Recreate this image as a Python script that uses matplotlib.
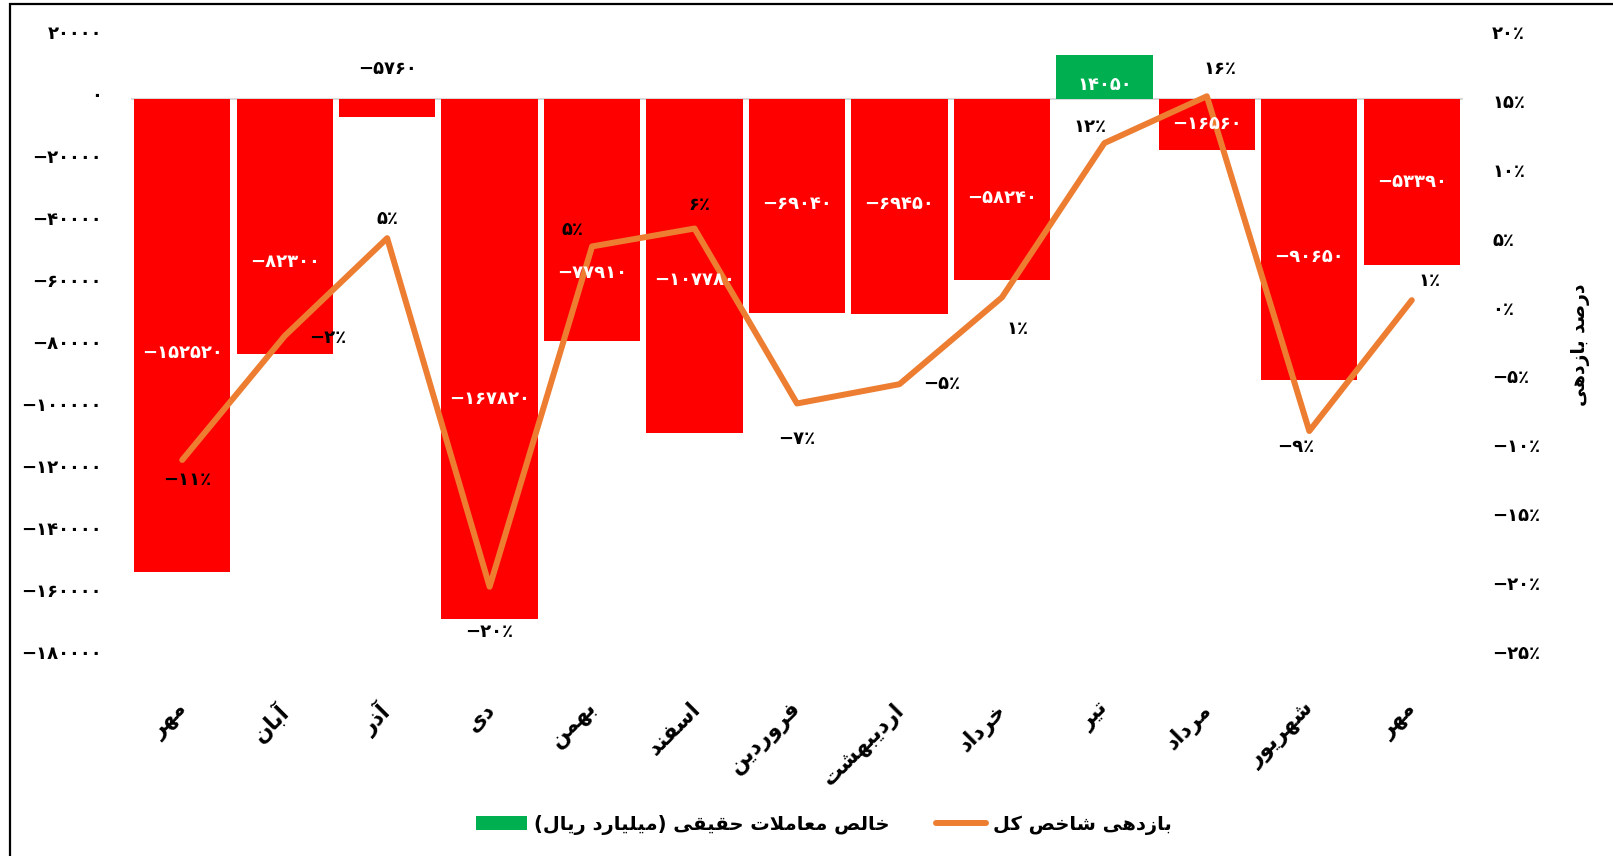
import numpy as np
import matplotlib
matplotlib.use('Agg')
import matplotlib.pyplot as plt
import matplotlib.transforms as mtrans
from matplotlib.font_manager import findfont, FontProperties
from matplotlib.ft2font import FT2Font
from matplotlib.patches import Rectangle, Patch
from matplotlib.lines import Line2D

# data
months = ['مهر', 'آبان', 'آذر', 'دی', 'بهمن', 'اسفند', 'فروردین',
          'اردیبهشت', 'خرداد', 'تیر', 'مرداد', 'شهریور', 'مهر']
net_real = [-152520, -82300, -5760, -167820, -77910, -107780, -69040,
            -69450, -58240, 14050, -16560, -90650, -53390]
index_return = [-10.7, -1.7, 5.4, -19.9, 4.8, 6.1, -6.6, -5.2, 1.1,
                12.3, 15.7, -8.6, 0.9]
left_ticks = list(range(-180000, 20001, 20000))
right_ticks = list(range(-25, 21, 5))

bar_name = 'خالص معاملات حقیقی (میلیارد ریال)'
line_name = 'بازدهی شاخص کل'
right_title = 'درصد بازدهی'

# where the value labels sit (left-axis units / pixel offsets)
bar_label_y = [-82000, -52600, 9700, -96800, -56100, -58400, -33900,
               -33900, -31900, 4500, -8100, -51000, -26800]
line_label_off = [(5, -20), (43, -2), (0, 19), (0, -45), (-20, 16), (5, 24),
                  (0, -36), (42, 0), (16, -32), (-14, 16), (13, 27),
                  (-14, -16), (18, 19)]

FONT = 'DejaVu Sans'
plt.rcParams['font.family'] = [FONT]
plt.rcParams['font.weight'] = 'bold'

# --- tiny persian shaper (no arabic_reshaper available) ---
FORMS = {
    'ا': ('\uFE8D', '\uFE8E', None, None),
    'آ': ('\uFE81', '\uFE82', None, None),
    'ب': ('\uFE8F', '\uFE90', '\uFE91', '\uFE92'),
    'ت': ('\uFE95', '\uFE96', '\uFE97', '\uFE98'),
    'ح': ('\uFEA1', '\uFEA2', '\uFEA3', '\uFEA4'),
    'خ': ('\uFEA5', '\uFEA6', '\uFEA7', '\uFEA8'),
    'د': ('\uFEA9', '\uFEAA', None, None),
    'ذ': ('\uFEAB', '\uFEAC', None, None),
    'ر': ('\uFEAD', '\uFEAE', None, None),
    'ز': ('\uFEAF', '\uFEB0', None, None),
    'س': ('\uFEB1', '\uFEB2', '\uFEB3', '\uFEB4'),
    'ش': ('\uFEB5', '\uFEB6', '\uFEB7', '\uFEB8'),
    'ص': ('\uFEB9', '\uFEBA', '\uFEBB', '\uFEBC'),
    'ع': ('\uFEC9', '\uFECA', '\uFECB', '\uFECC'),
    'ف': ('\uFED1', '\uFED2', '\uFED3', '\uFED4'),
    'ق': ('\uFED5', '\uFED6', '\uFED7', '\uFED8'),
    'ک': ('\uFB8E', '\uFB8F', '\uFB90', '\uFB91'),
    'ل': ('\uFEDD', '\uFEDE', '\uFEDF', '\uFEE0'),
    'م': ('\uFEE1', '\uFEE2', '\uFEE3', '\uFEE4'),
    'ن': ('\uFEE5', '\uFEE6', '\uFEE7', '\uFEE8'),
    'ه': ('\uFEE9', '\uFEEA', '\uFEEB', '\uFEEC'),
    'و': ('\uFEED', '\uFEEE', None, None),
    'ی': ('\uFBFC', '\uFBFD', '\uFBFE', '\uFBFF'),
}
cmap = FT2Font(findfont(FontProperties(family=FONT, weight='bold'))).get_charmap()
if 0xFBFC not in cmap:
    FORMS['ی'] = ('\uFEEF', '\uFEF0', '\uFEF3', '\uFEF4')
if 0xFB8E not in cmap:
    FORMS['ک'] = ('\uFED9', '\uFEDA', '\uFEDB', '\uFEDC')
LAM_ALEF = {'ا': ('\uFEFB', '\uFEFC'), 'آ': ('\uFEF5', '\uFEF6')}


def joins_left(c):
    return c in FORMS and FORMS[c][2] is not None


def shape(text):
    out = []
    i = 0
    n = len(text)
    while i < n:
        c = text[i]
        if c not in FORMS:
            out.append(c)
            i += 1
            continue
        jp = i > 0 and joins_left(text[i - 1])
        if c == 'ل' and i + 1 < n and text[i + 1] in LAM_ALEF:
            out.append(LAM_ALEF[text[i + 1]][1 if jp else 0])
            i += 2
            continue
        jn = joins_left(c) and i + 1 < n and text[i + 1] in FORMS
        f = FORMS[c]
        if jp and jn:
            g = f[3]
        elif jp:
            g = f[1]
        elif jn:
            g = f[2]
        else:
            g = f[0]
        out.append(g)
        i += 1
    s = ''.join(reversed(out))
    return s.translate(str.maketrans('()', ')('))


FA_DIGITS = str.maketrans('0123456789', '۰۱۲۳۴۵۶۷۸۹')


def fa_num(v):
    s = str(abs(int(round(v)))).translate(FA_DIGITS)
    return ('−' + s) if v < 0 else s


def fa_pct(v):
    r = int(round(v))
    s = str(abs(r)).translate(FA_DIGITS) + '٪'
    return ('−' + s) if r < 0 else s


W, H = 1613, 856
fig = plt.figure(figsize=(W / 100, H / 100), dpi=100)
ax = fig.add_axes([131 / W, 1 - 657 / H, (1463 - 131) / W, 620 / H])

x = np.arange(len(months))
bar_colors = ['#00B050' if v > 0 else '#FF0000' for v in net_real]
ax.bar(x, net_real, width=0.94, color=bar_colors, zorder=2)
ax.axhline(0, color='#D9D9D9', lw=1.5, zorder=1)
ax.set_xlim(-0.5, len(months) - 0.5)
ax.set_ylim(-180000, 20000)
ax.set_yticks(left_ticks)
ax.set_yticklabels([fa_num(v) for v in left_ticks], fontsize=13, fontweight='bold')
ax.set_xticks(x)
ax.set_xticklabels([shape(m) for m in months], rotation=45, ha='right', va='top',
                   fontsize=15.5, fontweight='bold')
ax.tick_params(axis='y', length=0, pad=21)
ax.tick_params(axis='x', length=0, pad=30)
for s in ax.spines.values():
    s.set_visible(False)

ax2 = ax.twinx()
ax2.plot(x, index_return, color='#ED7D31', lw=4.3, solid_capstyle='round',
         solid_joinstyle='round', zorder=3)
ax2.set_ylim(-25, 20)
ax2.set_yticks(right_ticks)
ax2.set_yticklabels([fa_pct(v) for v in right_ticks], fontsize=13, fontweight='bold')
ax2.tick_params(axis='y', length=0, pad=21)
for s in ax2.spines.values():
    s.set_visible(False)

shift = mtrans.ScaledTranslation(0, 5 / 100, fig.dpi_scale_trans)
for lbl in ax.get_yticklabels() + ax2.get_yticklabels():
    lbl.set_transform(lbl.get_transform() + shift)
xshift = mtrans.ScaledTranslation(9 / 100, 0, fig.dpi_scale_trans)
for lbl in ax.get_xticklabels():
    lbl.set_transform(lbl.get_transform() + xshift)

# bar value labels
for xi, v, ly in zip(x, net_real, bar_label_y):
    outside = (v < 0 and ly > 0) or (v > 0 and ly > v)
    ax2.text(xi, ly, fa_num(v), transform=ax.transData, ha='center', va='center',
             fontsize=13, fontweight='bold', color='black' if outside else 'white',
             zorder=5)

# line value labels
for xi, v, (dx, dy) in zip(x, index_return, line_label_off):
    ax2.annotate(fa_pct(v), (xi, v), xytext=(dx, dy), textcoords='offset pixels',
                 ha='center', va='center', fontsize=13, fontweight='bold',
                 color='black', zorder=5)

fig.text(1580 / W, 1 - 345 / H, shape(right_title), rotation=90, ha='center',
         va='center', fontsize=13.5, fontweight='bold')

handles = [Patch(facecolor='#00B050', edgecolor='none'),
           Line2D([], [], color='#ED7D31', lw=4.3, solid_capstyle='round')]
fig.legend(handles, [shape(bar_name), shape(line_name)], loc='center',
           bbox_to_anchor=(824 / W, 1 - 825 / H), ncol=2, frameon=False,
           prop={'size': 14, 'weight': 'bold'}, handlelength=2.6,
           handleheight=0.75, handletextpad=0.35, columnspacing=2.4)

# chart border (cropped on the right and bottom)
fig.patches.append(Rectangle((10 / W, -0.1), 1.2, 1 - 4 / H + 0.1,
                             transform=fig.transFigure, fill=False,
                             edgecolor='black', lw=1.6))

fig.savefig('out.png', dpi=100)
